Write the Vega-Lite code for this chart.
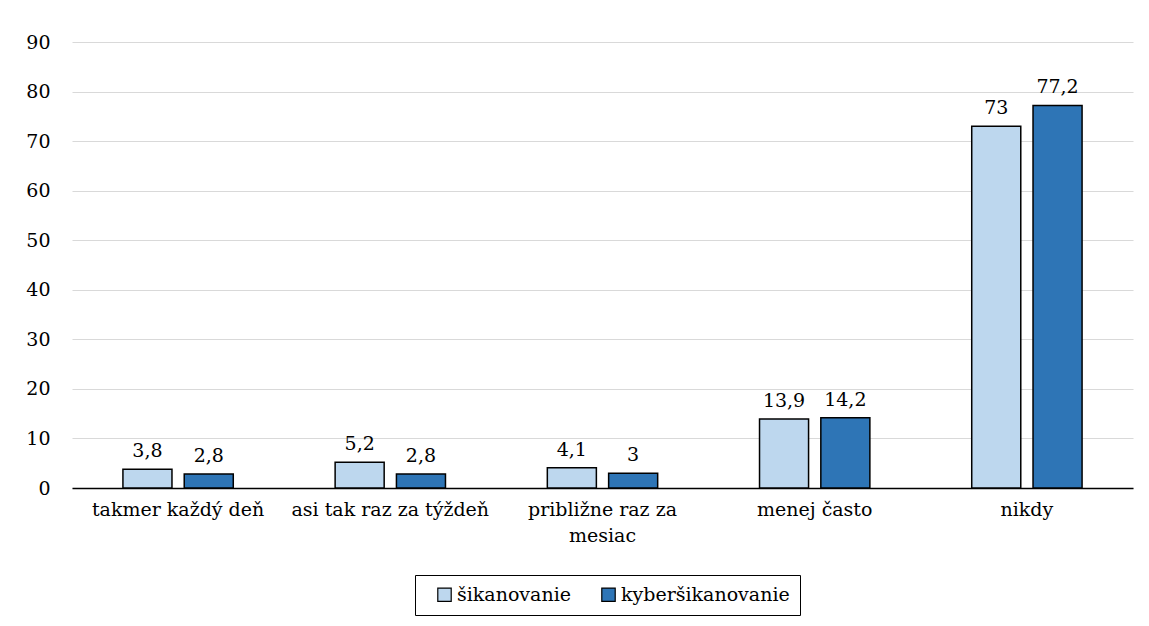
{
  "$schema": "https://vega.github.io/schema/vega-lite/v6.json",
  "autosize": "none",
  "width": 1061,
  "height": 446,
  "padding": {"left": 72, "top": 42, "right": 16, "bottom": 138},
  "background": "white",
  "config": {
    "font": "DejaVu Serif",
    "view": {"stroke": null},
    "locale": {"number": {"decimal": ",", "thousands": " ", "grouping": [3], "currency": ["", " €"]}}
  },
  "data": {
    "values": [
      {"kategoria": "takmer každý deň", "typ": "šikanovanie", "hodnota": 3.8},
      {"kategoria": "takmer každý deň", "typ": "kyberšikanovanie", "hodnota": 2.8},
      {"kategoria": "asi tak raz za týždeň", "typ": "šikanovanie", "hodnota": 5.2},
      {"kategoria": "asi tak raz za týždeň", "typ": "kyberšikanovanie", "hodnota": 2.8},
      {"kategoria": "približne raz za mesiac", "typ": "šikanovanie", "hodnota": 4.1},
      {"kategoria": "približne raz za mesiac", "typ": "kyberšikanovanie", "hodnota": 3},
      {"kategoria": "menej často", "typ": "šikanovanie", "hodnota": 13.9},
      {"kategoria": "menej často", "typ": "kyberšikanovanie", "hodnota": 14.2},
      {"kategoria": "nikdy", "typ": "šikanovanie", "hodnota": 73},
      {"kategoria": "nikdy", "typ": "kyberšikanovanie", "hodnota": 77.2}
    ]
  },
  "encoding": {
    "x": {
      "field": "kategoria",
      "type": "nominal",
      "sort": null,
      "scale": {"paddingInner": 0.48, "paddingOuter": 0.24},
      "axis": {
        "title": null,
        "labelAngle": 0,
        "labelFontSize": 19,
        "labelColor": "black",
        "labelPadding": 12,
        "labelLineHeight": 26,
        "labelLimit": 300,
        "ticks": false,
        "domainColor": "black",
        "domainWidth": 1.5,
        "labelExpr": "datum.label == 'približne raz za mesiac' ? ['približne raz za', 'mesiac'] : datum.label"
      }
    },
    "xOffset": {
      "field": "typ",
      "type": "nominal",
      "sort": ["šikanovanie", "kyberšikanovanie"],
      "scale": {"paddingInner": 0.2, "paddingOuter": 0}
    },
    "y": {
      "field": "hodnota",
      "type": "quantitative",
      "scale": {"domain": [0, 90]},
      "axis": {
        "title": null,
        "values": [0, 10, 20, 30, 40, 50, 60, 70, 80, 90],
        "domain": false,
        "ticks": false,
        "labelFontSize": 19,
        "labelColor": "black",
        "labelPadding": 22,
        "gridColor": "#D9D9D9",
        "gridWidth": 1.2
      }
    }
  },
  "layer": [
    {
      "mark": {"type": "bar", "stroke": "black", "strokeWidth": 1.5},
      "encoding": {
        "color": {
          "field": "typ",
          "type": "nominal",
          "sort": ["šikanovanie", "kyberšikanovanie"],
          "scale": {"domain": ["šikanovanie", "kyberšikanovanie"], "range": ["#BDD7EE", "#2E75B6"]},
          "legend": {
            "title": null,
            "orient": "none",
            "direction": "horizontal",
            "legendX": 343,
            "legendY": 533,
            "strokeColor": "black",
            "padding": 10,
            "symbolType": "square",
            "symbolSize": 180,
            "symbolStrokeColor": "black",
            "symbolStrokeWidth": 1.2,
            "labelFontSize": 19,
            "labelLimit": 400,
            "labelColor": "black",
            "labelOffset": 3,
            "columnPadding": 18,
            "symbolOffset": 10
          }
        }
      }
    },
    {
      "mark": {"type": "text", "baseline": "bottom", "dy": -8, "fontSize": 19, "color": "black"},
      "encoding": {
        "text": {"field": "hodnota", "type": "quantitative", "format": "~g"}
      }
    }
  ]
}
